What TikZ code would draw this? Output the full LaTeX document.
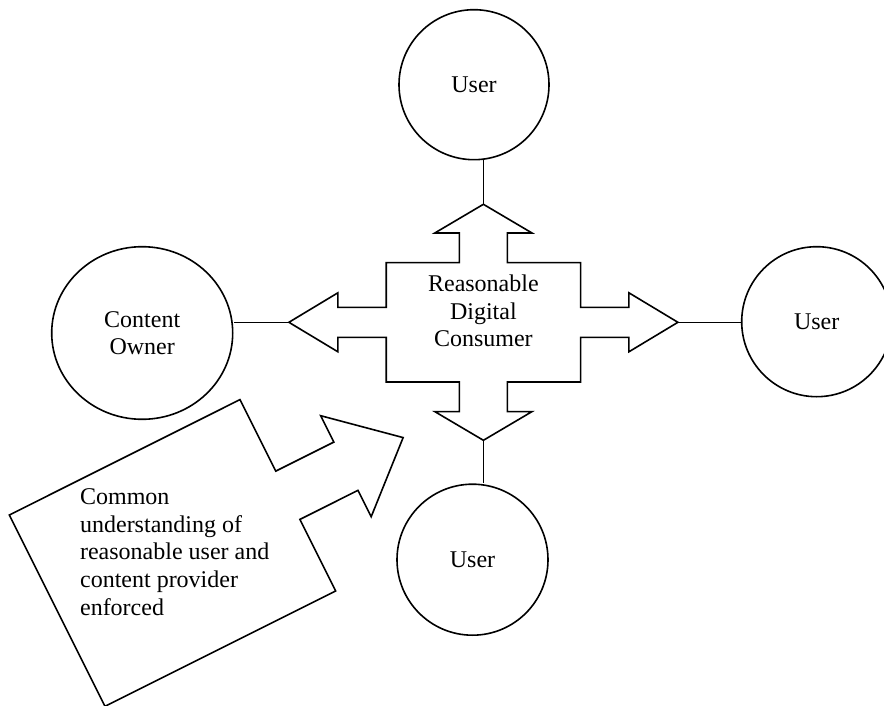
\documentclass[tikz,border=0pt]{standalone}
\usepackage{fontspec}
\setmainfont{Liberation Serif}
\usetikzlibrary{shapes.geometric}
\begin{document}
\begin{tikzpicture}[x=0.5pt,y=-0.5pt,line width=0.8pt,
		every node/.style={font=\fontsize{12}{13.8}\selectfont},
		party/.style={draw,circle,inner sep=0pt,minimum size=75pt}]
				\useasboundingbox (0,0) rectangle (884,706);
				\node[party] (userN) at (474,84.7) {User};
				\node[party] (userE) at (816.7,321.7) {User};
				\node[party,minimum size=75.5pt] (userS) at (472.5,559.7) {User};
				\node[draw,ellipse,inner sep=0pt,minimum width=90.5pt,minimum height=86.3pt,align=center] (owner) at (142.2,333) {Content\\Owner};
				\begin{scope}[shift={(483.4,322.3)}]
				\draw (0,-118) -- (48.6,-89.3) -- (24,-89.3) -- (24,-59.7) -- (97.2,-59.7) -- (97.2,-15) -- (145.5,-15) -- (145.5,-29.5) -- (194.5,0) -- (145.5,29.5) -- (145.5,15) -- (97.2,15) -- (97.2,59.7) -- (24,59.7) -- (24,89.3) -- (48.6,89.3) -- (0,118) -- (-48.6,89.3) -- (-24,89.3) -- (-24,59.7) -- (-97.2,59.7) -- (-97.2,15) -- (-145.5,15) -- (-145.5,29.5) -- (-194.5,0) -- (-145.5,-29.5) -- (-145.5,-15) -- (-97.2,-15) -- (-97.2,-59.7) -- (-24,-59.7) -- (-24,-89.3) -- (-48.6,-89.3) -- cycle;
				\coordinate (tipN) at (0,-118);
				\coordinate (tipE) at (194.5,0);
				\coordinate (tipS) at (0,118);
				\coordinate (tipW) at (-194.5,0);
				\end{scope}
				\node[align=center] (rdc) at (483.4,311) {Reasonable\\Digital\\Consumer};
				\draw (tipN) -- (tipN |- userN.south);
				\draw (tipE) -- (tipE -| userE.west);
				\draw (tipS) -- (tipS |- userS.north);
				\draw (tipW) -- (tipW -| owner.east);
				\begin{scope}[shift={(9.3,515)},x={(0.447pt,0.2236pt)},y={(0.2236pt,-0.447pt)}]
				\draw (0,0) -- (258,0) -- (258,80) -- (323,80) -- (323,50.5) -- (387,107) -- (323,163.5) -- (323,134) -- (258,134) -- (258,214) -- (0,214) -- cycle;
				\end{scope}
				\node[align=left,anchor=west,inner sep=0pt] (common) at (79.3,552) {Common\\understanding of\\reasonable user and\\content provider\\enforced};
			\end{tikzpicture}
\end{document}
